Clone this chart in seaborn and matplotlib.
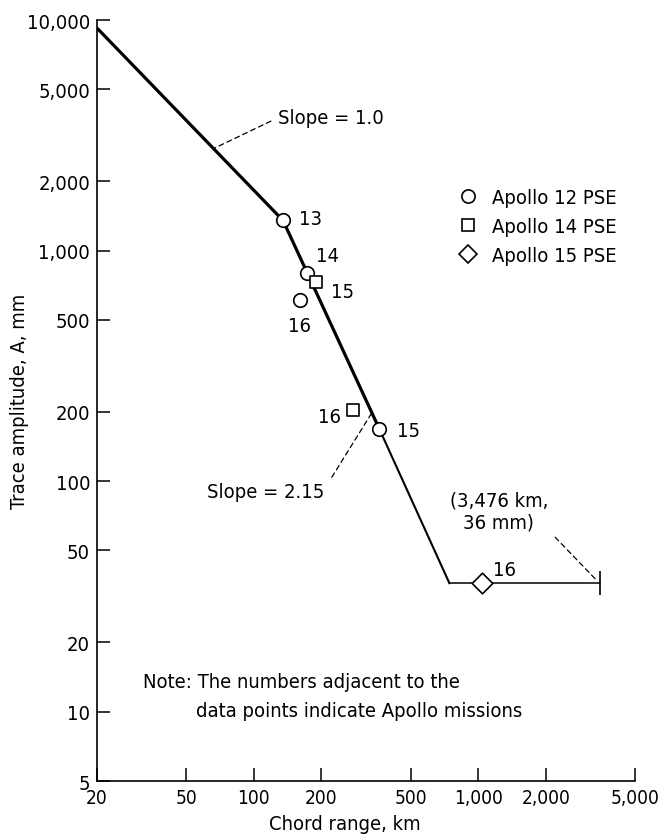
import matplotlib
matplotlib.use("Agg")
import matplotlib.pyplot as plt
import seaborn as sns
from matplotlib.lines import Line2D
from matplotlib.ticker import FixedLocator, NullLocator
from matplotlib import font_manager as fm

sns.set_style("white")
_fonts = fm.fontManager.ttflist
_names = {f.name for f in _fonts}
if 'Liberation Sans Narrow' in _names:
    plt.rcParams['font.family'] = ['Liberation Sans Narrow', 'DejaVu Sans']
    FS = 15
elif any(f.name == 'DejaVu Sans' and 'condensed' in str(f.stretch) for f in _fonts):
    plt.rcParams['font.family'] = ['DejaVu Sans']
    plt.rcParams['font.stretch'] = 'condensed'
    FS = 14.5
else:
    plt.rcParams['font.family'] = ['Roboto', 'DejaVu Sans']
    FS = 14
for k in ['text.color', 'axes.labelcolor', 'xtick.color', 'ytick.color']:
    plt.rcParams[k] = 'black'

# ---- data ----
fit_thick_x = [20, 135, 363]
fit_thick_y = [9230, 1350, 168]
fit_thin_x = [363, 745]
fit_thin_y = [168, 36]
fit_flat_x = [745, 3476]
fit_flat_y = [36, 36]

a12_x = [135, 172, 160, 363]
a12_y = [1350, 800, 610, 168]
a12_lab = ['13', '14', '16', '15']

a14_x = [190, 278]
a14_y = [730, 203]
a14_lab = ['15', '16']

a15_x = [1040]
a15_y = [36]
a15_lab = ['16']

end_x = [3476]
end_y = [36]

x_ticks = [20, 50, 100, 200, 500, 1000, 2000, 5000]
y_ticks = [5, 10, 20, 50, 100, 200, 500, 1000, 2000, 5000, 10000]

fig = plt.figure(figsize=(6.58, 8.37), dpi=100)
ax = fig.add_axes([0.1474, 0.0657, 0.8176, 0.9092])

sns.lineplot(x=fit_thick_x, y=fit_thick_y, ax=ax, color='black', lw=2.3, sort=False, zorder=2)
sns.lineplot(x=fit_thin_x, y=fit_thin_y, ax=ax, color='black', lw=1.5, sort=False, zorder=2)
sns.lineplot(x=fit_flat_x, y=fit_flat_y, ax=ax, color='black', lw=1.1, sort=False, zorder=2)
ax.plot(end_x, end_y, marker='|', ms=17, mew=1.2, color='black', ls='none', zorder=3)

mk = dict(facecolor='white', edgecolor='black', linewidth=1.2, zorder=4, legend=False)
sns.scatterplot(x=a12_x, y=a12_y, marker='o', s=95, ax=ax, **mk)
sns.scatterplot(x=a14_x, y=a14_y, marker='s', s=85, ax=ax, **mk)
sns.scatterplot(x=a15_x, y=a15_y, marker='D', s=110, ax=ax, **mk)

ax.set_xscale('log')
ax.set_yscale('log')
ax.set_xlim(20, 5000)
ax.set_ylim(5, 10000)
ax.xaxis.set_major_locator(FixedLocator(x_ticks))
ax.yaxis.set_major_locator(FixedLocator(y_ticks))
ax.xaxis.set_minor_locator(NullLocator())
ax.yaxis.set_minor_locator(NullLocator())
ax.set_xticklabels([f"{v:,}" for v in x_ticks], fontsize=FS - 0.8)
ax.set_yticklabels([f"{v:,}" for v in y_ticks], fontsize=FS)
ax.tick_params(direction='in', length=9.5, width=1.1, color='black', pad=5,
               bottom=True, left=True)
ax.tick_params(axis='x', pad=5)
sns.despine(ax=ax)
for s in ['left', 'bottom']:
    ax.spines[s].set_linewidth(1.2)
    ax.spines[s].set_color('black')

ax.set_xlabel('Chord range, km', fontsize=FS)
ax.set_ylabel('Trace amplitude, A, mm', fontsize=FS)
ax.xaxis.set_label_coords(0.461, -0.044)
ax.yaxis.set_label_coords(-0.126, 0.5)

# point labels
offs12 = [((11.5, 1.6), 'left'), ((6.8, 12.5), 'left'), ((0, -18.5), 'center'), ((12.7, -1.2), 'left')]
for x, y, t, (o, ha) in zip(a12_x, a12_y, a12_lab, offs12):
    ax.annotate(t, (x, y), xytext=o, textcoords='offset points', ha=ha, va='center', fontsize=FS)
offs14 = [((10.4, -6.8), 'left'), ((-9, -4.5), 'right')]
for x, y, t, (o, ha) in zip(a14_x, a14_y, a14_lab, offs14):
    ax.annotate(t, (x, y), xytext=o, textcoords='offset points', ha=ha, va='center', fontsize=FS)
for x, y, t in zip(a15_x, a15_y, a15_lab):
    ax.annotate(t, (x, y), xytext=(8, 10), textcoords='offset points', ha='left', va='center', fontsize=FS)

dash = dict(arrowstyle='-', linestyle=(0, (4, 3)), lw=0.9, color='black', shrinkA=3, shrinkB=0)
ax.annotate('Slope = 1.0', (66.5, 2776), xytext=(46, 22), textcoords='offset points',
            ha='left', va='center', fontsize=FS, arrowprops=dict(dash, relpos=(0, 0.5)))
ax.annotate('Slope = 2.15', (334, 196), xytext=(-34, -56), textcoords='offset points',
            ha='right', va='center', fontsize=FS, arrowprops=dict(dash, relpos=(1, 0.6), shrinkA=6))
ax.annotate('(3,476 km,\n36 mm)', (3476, 36), xytext=(-72.5, 51.8), textcoords='offset points',
            ha='center', va='center', multialignment='center', fontsize=FS, linespacing=1.2,
            arrowprops=dict(dash, relpos=(0.94, 0.2), shrinkA=4, shrinkB=2))

ax.text(0.085, 0.131, 'Note: The numbers adjacent to the', transform=ax.transAxes,
        ha='left', va='center', fontsize=FS)
ax.text(0.184, 0.092, 'data points indicate Apollo missions', transform=ax.transAxes,
        ha='left', va='center', fontsize=FS)

handles = [
    Line2D([], [], marker='o', ls='none', mfc='white', mec='black', mew=1.2, ms=9.5),
    Line2D([], [], marker='s', ls='none', mfc='white', mec='black', mew=1.2, ms=9),
    Line2D([], [], marker='D', ls='none', mfc='white', mec='black', mew=1.2, ms=9),
]
ax.legend(handles, ['Apollo 12 PSE', 'Apollo 14 PSE', 'Apollo 15 PSE'], loc='upper left',
          bbox_to_anchor=(0.673, 0.779), frameon=False, fontsize=FS, borderpad=0,
          handlelength=0.9, handletextpad=0.75, labelspacing=0.5, borderaxespad=0)

fig.savefig('out.png', dpi=100)
